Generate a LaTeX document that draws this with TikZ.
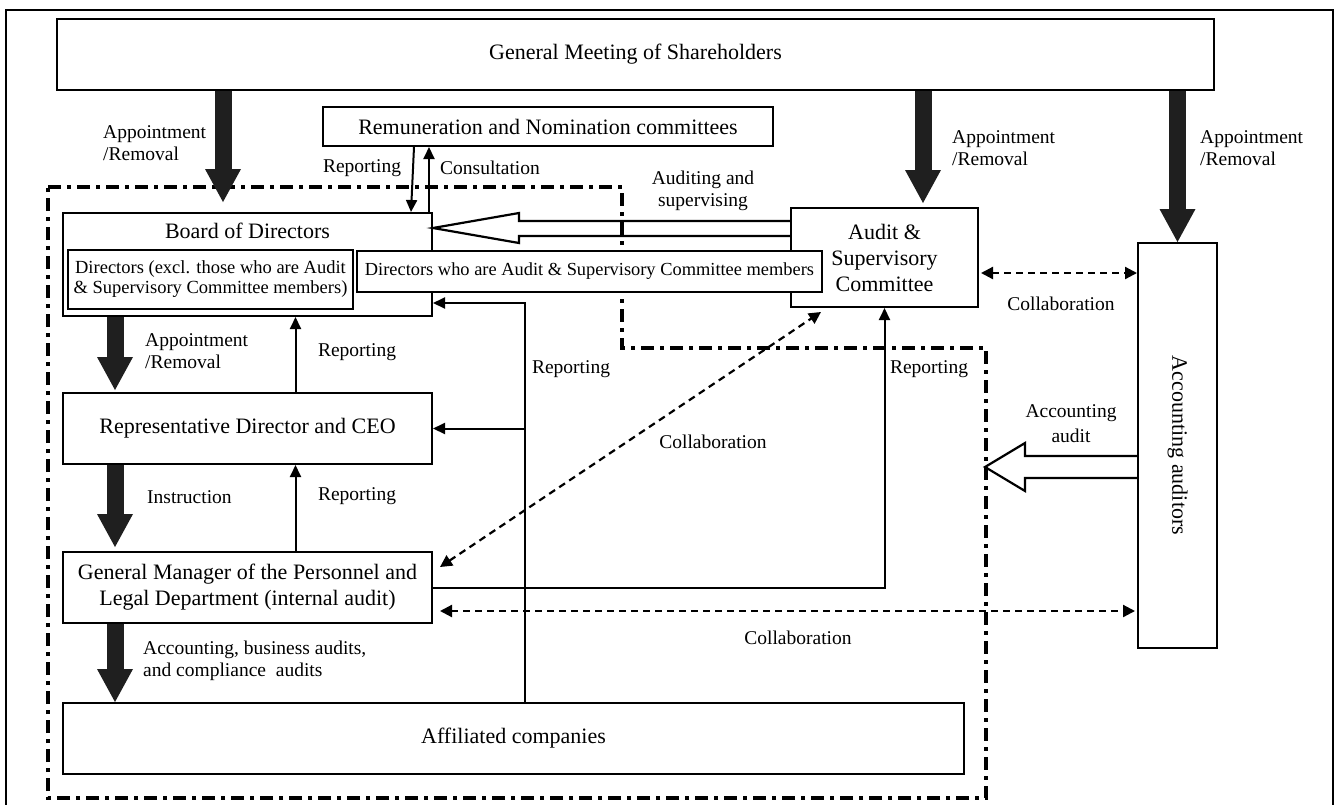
\documentclass[tikz,border=0pt]{standalone}
\usepackage{fontspec}
\setmainfont{Liberation Serif}
\usetikzlibrary{arrows.meta,calc}
\begin{document}
\begin{tikzpicture}[x=1pt,y=-1pt,
  box/.style={draw=black, line width=2pt, inner sep=0pt, align=center, font=\fontsize{22}{26}\selectfont},
  lbl/.style={inner sep=0pt, align=left, font=\fontsize{19.5}{22}\selectfont},
  bigarrow/.style={draw=black!88, line width=17pt, -{Triangle[width=36pt,length=33pt,line width=0pt]}},
  thinarrow/.style={line width=2pt, -{Triangle[width=11pt,length=12pt]}},
  collab/.style={line width=2.2pt, dash pattern=on 7pt off 5pt, {Triangle[width=12pt,length=12pt]}-{Triangle[width=12pt,length=12pt]}},
  dashframe/.style={line width=3.8pt, dash pattern=on 13pt off 6pt on 4pt off 6pt},
  hollow/.style={draw, line width=2.2pt, line join=miter}
]
\useasboundingbox (0,0) rectangle (1338,804);
% outer frame
\draw[line width=2pt] (6,806) -- (6,10) -- (1333,10) -- (1333,806);
% dash-dot frame
\draw[dashframe] (48,187) -- (622,187) -- (622,348) -- (986,348) -- (986,798) -- (48,798) -- cycle;

% boxes
\node[box, minimum width=1157pt, minimum height=71pt] (gms) at (635.5,54.5) {General Meeting of Shareholders};
\node[box, minimum width=450pt, minimum height=39pt] (rem) at (548,126.5) {Remuneration and Nomination committees};
\node[box, minimum width=369pt, minimum height=103pt] (board) at (247.5,264.5) {};
\node[inner sep=0pt, font=\fontsize{22}{26}\selectfont] (boardt) at (247.5,231) {Board of Directors};
\node[box, font=\fontsize{18.5}{20}\selectfont, minimum width=285pt, minimum height=59pt] (dira) at (210.5,279.5) {Directors (excl. those who are Audit\\\& Supervisory Committee members)};
\node[box, minimum width=187pt, minimum height=99pt] (audit) at (884.5,257.5) {Audit \&\\Supervisory\\Committee};
\node[box, fill=white, font=\fontsize{18.4}{20}\selectfont, minimum width=465pt, minimum height=41pt] (dirb) at (589.5,271.5) {Directors who are Audit \& Supervisory Committee members};
\node[box, minimum width=79pt, minimum height=405pt] (acc) at (1177.5,445.5) {\rotatebox{-90}{Accounting auditors}};
\node[box, minimum width=369pt, minimum height=71pt] (ceo) at (247.5,428.5) {Representative Director and CEO};
\node[box, minimum width=369pt, minimum height=71pt] (gm) at (247.5,587.5) {General Manager of the Personnel and\\Legal Department (internal audit)};
\node[box, minimum width=901pt, minimum height=71pt] (aff) at (513.5,738.5) {Affiliated companies};

% helper coordinates
\coordinate (xa) at (223,0);
\coordinate (xb) at (923,0);
\coordinate (xc) at (115,0);
\coordinate (xd) at (414,0);
\coordinate (xe) at (411,0);
\coordinate (xf) at (429,0);
\coordinate (xg) at (295.5,0);
\coordinate (xr) at (525,0);
\coordinate (yb) at (0,303);
\coordinate (yc) at (0,273);
\coordinate (yd) at (0,611);
\coordinate (c1) at (440,567);
\coordinate (c2) at (821,312);

% thick arrows
\draw[bigarrow, shorten >=10pt] (gms.south -| xa) -- (board.north -| xa);
\draw[bigarrow, shorten >=4pt] (gms.south -| xb) -- (audit.north -| xb);
\draw[bigarrow] (gms.south -| acc.north) -- (acc.north);
\draw[bigarrow, shorten >=2pt] (board.south -| xc) -- (ceo.north -| xc);
\draw[bigarrow, shorten >=4pt] (ceo.south -| xc) -- (gm.north -| xc);
\draw[bigarrow] (gm.south -| xc) -- (aff.north -| xc);

% thin arrows
\draw[thinarrow] (rem.south -| xd) -- (board.north -| xe);
\draw[thinarrow] (board.north -| xf) -- (rem.south -| xf);
\draw[thinarrow] (ceo.north -| xg) -- (board.south -| xg);
\draw[thinarrow] (gm.north -| xg) -- (ceo.south -| xg);
\draw[thinarrow] (aff.north -| xr) -- (xr |- yb) -- (board.east |- yb);
\draw[thinarrow] (xr |- ceo.east) -- (ceo.east);
\draw[thinarrow] (gm.east) -- (gm.east -| audit.south) -- (audit.south);

% hollow arrows
\draw[hollow] (audit.west |- 0,221) -- (519,221) -- (519,213) -- (board.east |- 0,228) -- (519,243) -- (519,236) -- (audit.west |- 0,236);
\draw[hollow] (acc.west |- 0,456) -- (1025,456) -- (1025,443) -- (985,467) -- (1025,491) -- (1025,478) -- (acc.west |- 0,478);

% collaboration
\draw[collab, shorten <=2pt] (audit.east |- yc) -- (acc.west |- yc);
\draw[collab] (c1) -- (c2);
\draw[collab, shorten <=7pt, shorten >=2pt] (gm.east |- yd) -- (acc.west |- yd);

% labels
\node[lbl, anchor=west] (l1) at (103,143) {Appointment\\/Removal};
\node[lbl] (l2) at (362,168) {Reporting};
\node[lbl] (l3) at (490,168) {Consultation};
\node[lbl, align=center] (l4) at (703,191) {Auditing and\\supervising};
\node[lbl, anchor=west] (l5) at (952,148) {Appointment\\/Removal};
\node[lbl, anchor=west] (l6) at (1200,148) {Appointment\\/Removal};
\node[lbl] (l7) at (1061,304) {Collaboration};
\node[lbl, anchor=west] (l8) at (145,351) {Appointment\\/Removal};
\node[lbl] (l9) at (357,352) {Reporting};
\node[lbl] (l10) at (571,369) {Reporting};
\node[lbl, anchor=west] (l11) at (147,497) {Instruction};
\node[lbl] (l12) at (357,496) {Reporting};
\node[lbl] (l13) at (713,442) {Collaboration};
\node[lbl] (l14) at (929,369) {Reporting};
\node[lbl, align=center, font=\fontsize{19.5}{25}\selectfont] (l15) at (1071,424) {Accounting\\audit};
\node[lbl] (l16) at (798,638) {Collaboration};
\node[lbl, anchor=west] (l17) at (143,661) {Accounting, business audits,\\and compliance\ \ audits};
\end{tikzpicture}
\end{document}
